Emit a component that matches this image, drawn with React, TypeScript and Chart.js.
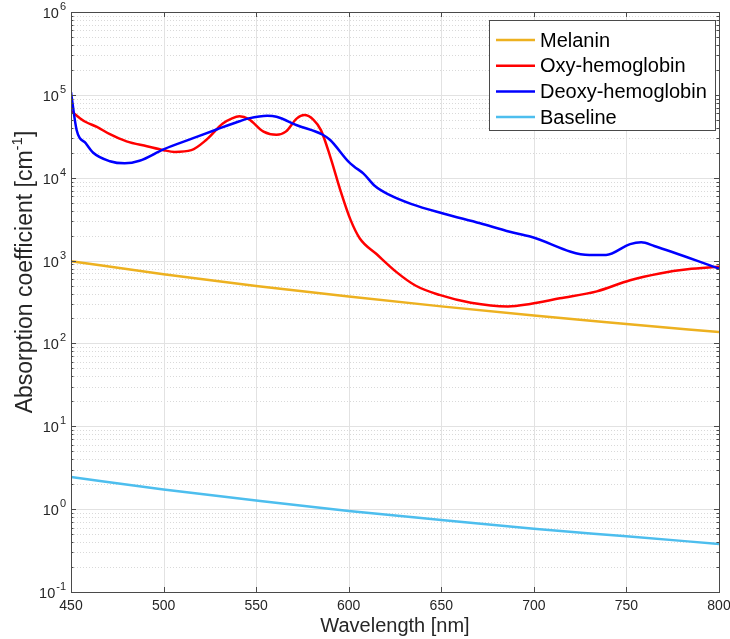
import React, { useEffect, useRef } from 'react';
import { Chart, registerables } from 'chart.js';

Chart.register(...registerables);

// ---------- data ----------
const melaninWl = [450, 500, 550, 600, 650, 700, 750, 800];
const melaninVals = [985, 685, 493, 368, 280, 217, 172, 137];

const oxyWl = [450, 455, 458, 464, 471, 480, 491, 500, 506, 515, 523, 532, 537, 541, 546, 554, 561, 566, 572, 576, 581, 585, 590, 596, 601, 606, 615, 626, 636, 649, 666, 686, 698, 714, 734, 752, 768, 783, 800];
const oxyVals = [64000, 52000, 47000, 41000, 33500, 27500, 24000, 21500, 20500, 21500, 28500, 45000, 52000, 55000, 51000, 36000, 33000, 36000, 52000, 57000, 50000, 37500, 18000, 6500, 3100, 1850, 1200, 720, 500, 385, 310, 280, 300, 350, 425, 580, 700, 785, 840];

const deoxyWl = [450, 453, 458, 462, 471, 479, 487, 500, 516, 529, 541, 546, 556, 561, 572, 586, 590, 600, 603, 608, 614, 622, 634, 651, 671, 687, 698, 730, 739, 752, 758, 765, 800];
const deoxyVals = [108000, 38000, 26000, 20000, 15800, 14900, 16000, 22000, 30000, 38500, 48000, 52000, 56000, 54500, 43000, 33000, 28500, 15500, 13600, 11200, 8000, 6200, 4800, 3700, 2820, 2230, 1950, 1170, 1170, 1580, 1660, 1500, 800];

const baselineWl = [450, 500, 550, 600, 650, 700, 750, 800];
const baselineVals = [2.44, 1.73, 1.27, 0.95, 0.74, 0.58, 0.47, 0.38];

const seriesLabels = ['Melanin', 'Oxy-hemoglobin', 'Deoxy-hemoglobin', 'Baseline'];
const seriesColors = ['#EDB120', '#FF0000', '#0000FF', '#4DBEEE'];

const xTicks = [450, 500, 550, 600, 650, 700, 750, 800];
const yExponents = [-1, 0, 1, 2, 3, 4, 5, 6];

const xTitle = 'Wavelength [nm]';
const yTitleMain = 'Absorption coefficient [cm';
const yTitleSup = '-1';
const yTitleEnd = ']';

// ---------- styling ----------
const FONT = '"Liberation Sans", Arial, Helvetica, sans-serif';
const TEXT = '#262626';
const AXIS = '#4a4a4a';

const toPoints = (xs: number[], ys: number[]) => xs.map((x, i) => ({ x, y: ys[i] }));

const matlabPlugin = {
  id: 'matlabAxes',
  beforeDatasetsDraw(chart: any) {
    const { ctx, chartArea } = chart;
    const xs = chart.scales.x;
    const ys = chart.scales.y;
    const { left, right, top, bottom } = chartArea;
    ctx.save();
    ctx.lineWidth = 1;
    ctx.strokeStyle = '#d9d9d9';
    ctx.setLineDash([1, 2]);
    for (let e = yExponents[0]; e < yExponents[yExponents.length - 1]; e++) {
      for (let k = 2; k <= 9; k++) {
        const y = Math.round(ys.getPixelForValue(k * Math.pow(10, e))) + 0.5;
        ctx.beginPath();
        ctx.moveTo(left, y);
        ctx.lineTo(right, y);
        ctx.stroke();
      }
    }
    ctx.setLineDash([]);
    ctx.strokeStyle = '#e2e2e2';
    for (const e of yExponents) {
      const y = Math.round(ys.getPixelForValue(Math.pow(10, e))) + 0.5;
      ctx.beginPath();
      ctx.moveTo(left, y);
      ctx.lineTo(right, y);
      ctx.stroke();
    }
    for (const t of xTicks) {
      const x = Math.round(xs.getPixelForValue(t)) + 0.5;
      ctx.beginPath();
      ctx.moveTo(x, top);
      ctx.lineTo(x, bottom);
      ctx.stroke();
    }
    ctx.restore();
  },
  afterDatasetsDraw(chart: any) {
    const { ctx, chartArea } = chart;
    const xs = chart.scales.x;
    const ys = chart.scales.y;
    const { left, right, top, bottom } = chartArea;
    ctx.save();
    ctx.strokeStyle = AXIS;
    ctx.lineWidth = 1;
    ctx.strokeRect(Math.round(left) + 0.5, Math.round(top) + 0.5, Math.round(right - left), Math.round(bottom - top));
    for (const t of xTicks) {
      const x = Math.round(xs.getPixelForValue(t)) + 0.5;
      ctx.beginPath();
      ctx.moveTo(x, bottom);
      ctx.lineTo(x, bottom - 5);
      ctx.moveTo(x, top);
      ctx.lineTo(x, top + 5);
      ctx.stroke();
    }
    for (const e of yExponents) {
      const y = Math.round(ys.getPixelForValue(Math.pow(10, e))) + 0.5;
      ctx.beginPath();
      ctx.moveTo(left, y);
      ctx.lineTo(left + 5, y);
      ctx.moveTo(right, y);
      ctx.lineTo(right - 5, y);
      ctx.stroke();
      if (e < yExponents[yExponents.length - 1]) {
        for (let k = 2; k <= 9; k++) {
          const ym = Math.round(ys.getPixelForValue(k * Math.pow(10, e))) + 0.5;
          ctx.beginPath();
          ctx.moveTo(left, ym);
          ctx.lineTo(left + 2.5, ym);
          ctx.moveTo(right, ym);
          ctx.lineTo(right - 2.5, ym);
          ctx.stroke();
        }
      }
    }
    ctx.fillStyle = TEXT;
    ctx.font = `14px ${FONT}`;
    ctx.textAlign = 'center';
    ctx.textBaseline = 'top';
    for (const t of xTicks) {
      ctx.fillText(String(t), xs.getPixelForValue(t), bottom + 7);
    }
    ctx.textAlign = 'left';
    ctx.textBaseline = 'alphabetic';
    for (const e of yExponents) {
      const y = ys.getPixelForValue(Math.pow(10, e));
      ctx.font = `14.5px ${FONT}`;
      const w1 = ctx.measureText('10').width;
      ctx.font = `11px ${FONT}`;
      const w2 = ctx.measureText(String(e)).width;
      const x0 = left - 5 - w1 - w2 - 1;
      ctx.font = `14.5px ${FONT}`;
      ctx.fillText('10', x0, y + 6);
      ctx.font = `11px ${FONT}`;
      ctx.fillText(String(e), x0 + w1 + 1, y - 2);
    }
    ctx.font = `20px ${FONT}`;
    ctx.textAlign = 'center';
    ctx.textBaseline = 'middle';
    ctx.fillText(xTitle, (left + right) / 2, 626);
    ctx.save();
    ctx.translate(26, 272);
    ctx.rotate(-Math.PI / 2);
    ctx.textAlign = 'left';
    ctx.textBaseline = 'middle';
    ctx.font = `23px ${FONT}`;
    const a = ctx.measureText(yTitleMain).width;
    const c = ctx.measureText(yTitleEnd).width;
    ctx.font = `15px ${FONT}`;
    const b = ctx.measureText(yTitleSup).width;
    const start = -(a + b + c) / 2;
    ctx.font = `23px ${FONT}`;
    ctx.fillText(yTitleMain, start, 0);
    ctx.font = `15px ${FONT}`;
    ctx.fillText(yTitleSup, start + a, -8);
    ctx.font = `23px ${FONT}`;
    ctx.fillText(yTitleEnd, start + a + b, 0);
    ctx.restore();

    const lx = 489, ly = 20, lw = 226, lh = 110;
    ctx.fillStyle = '#ffffff';
    ctx.fillRect(lx, ly, lw, lh);
    ctx.strokeStyle = AXIS;
    ctx.lineWidth = 1;
    ctx.strokeRect(lx + 0.5, ly + 0.5, lw, lh);
    ctx.font = `20px ${FONT}`;
    ctx.textAlign = 'left';
    ctx.textBaseline = 'middle';
    seriesLabels.forEach((lab, i) => {
      const yy = 40 + i * 25.7;
      ctx.strokeStyle = seriesColors[i];
      ctx.lineWidth = 2.5;
      ctx.beginPath();
      ctx.moveTo(496, yy);
      ctx.lineTo(535, yy);
      ctx.stroke();
      ctx.fillStyle = '#000000';
      ctx.fillText(lab, 540, yy + 1);
    });
    ctx.restore();
  },
};

export default function App() {
  const ref = useRef<HTMLCanvasElement | null>(null);
  useEffect(() => {
    if (!ref.current) return;
    const series = [
      toPoints(melaninWl, melaninVals),
      toPoints(oxyWl, oxyVals),
      toPoints(deoxyWl, deoxyVals),
      toPoints(baselineWl, baselineVals),
    ];
    const orders = [4, 3, 2, 1];
    const chart = new Chart(ref.current, {
      type: 'line',
      data: {
        datasets: series.map((d, i) => ({
          label: seriesLabels[i],
          data: d,
          borderColor: seriesColors[i],
          backgroundColor: seriesColors[i],
          borderWidth: 2.5,
          pointRadius: 0,
          fill: false,
          cubicInterpolationMode: 'monotone' as const,
          order: orders[i],
        })),
      },
      options: {
        animation: false,
        responsive: false,
        maintainAspectRatio: false,
        layout: { padding: { top: 12, right: 11, left: 0, bottom: 0 } },
        plugins: { legend: { display: false }, tooltip: { enabled: false } },
        scales: {
          x: {
            type: 'linear',
            min: 450,
            max: 800,
            grid: { display: false },
            border: { display: false },
            ticks: { display: false },
            afterFit: (s: any) => { s.height = 47; },
          },
          y: {
            type: 'logarithmic',
            min: 0.1,
            max: 1e6,
            grid: { display: false },
            border: { display: false },
            ticks: { display: false },
            afterFit: (s: any) => { s.width = 71; },
          },
        },
      },
      plugins: [matlabPlugin],
    } as any);
    return () => chart.destroy();
  }, []);
  return (
    <div style={{ position: 'fixed', left: 0, top: 0, width: 730, height: 639, background: '#fff' }}>
      <canvas ref={ref} width={730} height={639} style={{ display: 'block' }} />
    </div>
  );
}
